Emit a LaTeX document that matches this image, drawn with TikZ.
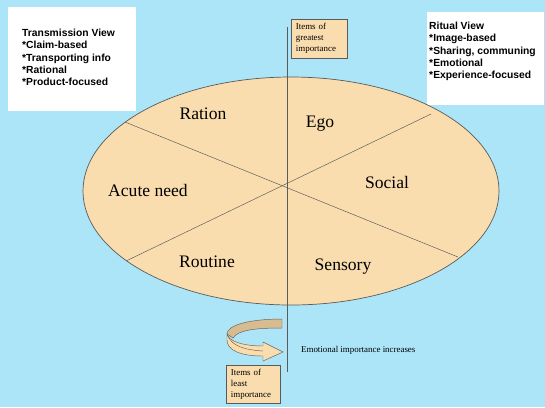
\documentclass[tikz,border=0pt]{standalone}
\usepackage{fontspec}
\setmainfont{Liberation Serif}
\setsansfont{Liberation Sans}
\definecolor{skyblue}{HTML}{ACE5F7}
\definecolor{wheatfill}{HTML}{FADDAE}
\definecolor{ribbondark}{HTML}{D6BC90}
\definecolor{linegray}{HTML}{5A5A5A}
\tikzset{
  viewtext/.style={anchor=north west,inner sep=0pt,align=left,font=\sffamily\bfseries\fontsize{8.8}{10.4}\selectfont},
  segment/.style={font=\fontsize{15}{18}\selectfont},
  tanbox/.style={draw=linegray,fill=wheatfill,anchor=north west,align=left,inner xsep=4pt,inner ysep=1pt,font=\fontsize{7.6}{9.4}\selectfont},
  axis/.style={linegray,thick}
}
\begin{document}
\begin{tikzpicture}[x=0.03cm,y=-0.03cm]
\useasboundingbox (0,0) rectangle (545,407);
\fill[skyblue] (0,0) rectangle (545,407);
% the two views
\fill[white] (8,7) rectangle (136,111);
\fill[white] (427,12) rectangle (544,105);
\node[viewtext] (transmission) at (22,29) {Transmission View\\*Claim-based\\*Transporting info\\*Rational\\*Product-focused};
\node[viewtext] (ritual) at (429,22) {Ritual View\\*Image-based\\*Sharing, communing\\*Emotional\\*Experience-focused};
% the oval and its six segments
\draw[linegray,fill=wheatfill,semithick] (291,191) ellipse[x radius=208,y radius=114];
\coordinate (p1) at (125,122);
\coordinate (p2) at (458,257);
\coordinate (q1) at (431,114);
\coordinate (q2) at (126,261);
\draw[linegray] (p1) -- (p2);
\draw[linegray] (q1) -- (q2);
\coordinate (top) at (287,27);
\coordinate (bottom) at (287,372);
\draw[axis] (top) -- (bottom);
\node[segment] (ration) at (203,114) {Ration};
\node[segment] (ego) at (320,124) {Ego};
\node[segment] (acute) at (148,190) {Acute need};
\node[segment] (social) at (387,182) {Social};
\node[segment] (routine) at (207,262) {Routine};
\node[segment] (sensory) at (343,267) {Sensory};
% ends of the axis
\node[tanbox,minimum width=1.68cm,minimum height=1.17cm,text width=1.68cm-8pt] (greatest) at (291,19) {Items of\\greatest\\importance};
\node[tanbox,minimum width=1.62cm,minimum height=1.14cm,text width=1.62cm-8pt] (least) at (226,365) {Items of\\least\\importance};
% turning arrow
\draw[linegray!80!brown,fill=ribbondark] (282,319) .. controls (250,319) and (227,325) .. (227,334) -- (233,338) .. controls (238,330) and (255,328) .. (282,328) -- cycle;
\draw[linegray!80!brown,fill=wheatfill] (227,334) .. controls (229,342) and (245,346) .. (263,346) -- (263,342) -- (283,352) -- (263,361) -- (263,356) .. controls (240,356) and (227,350) .. (227,340) -- cycle;
\draw[linegray!80!brown] (228,336) .. controls (232,346) and (245,350) .. (263,351);
\node[anchor=west,font=\fontsize{7.6}{9}\selectfont] (increase) at (297,350) {Emotional importance increases};
\end{tikzpicture}
\end{document}
